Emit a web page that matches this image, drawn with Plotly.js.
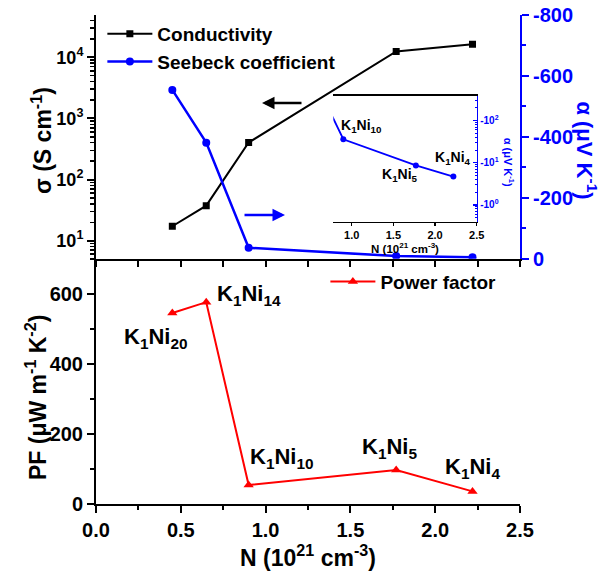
<!DOCTYPE html>
<html><head><meta charset="utf-8">
<script src="https://cdn.plot.ly/plotly-3.0.1.min.js"></script>
<style>body{margin:0;background:#fff}</style>
</head><body><div id="chart" style="width:600px;height:571px"></div>
<script>
// Carrier concentration N (10^21 cm^-3)
const N = [0.45, 0.65, 0.90, 1.77, 2.22];
// Conductivity sigma (S cm^-1)
const conductivity = [17.2, 37.4, 402, 12400, 16300];
// Seebeck coefficient alpha (uV K^-1)
const seebeck = [-554, -381, -36, -8.6, -4.7];
// Power factor (uW m^-1 K^-2)
const powerFactor = [545, 576, 54, 97, 36];
// Sample names
const samples = ['K<sub>1</sub>Ni<sub>20</sub>', 'K<sub>1</sub>Ni<sub>14</sub>', 'K<sub>1</sub>Ni<sub>10</sub>', 'K<sub>1</sub>Ni<sub>5</sub>', 'K<sub>1</sub>Ni<sub>4</sub>'];
// Tick labels
const sigmaTickVals = [10, 100, 1000, 10000];
const sigmaTickText = ['10<sup>1</sup>', '10<sup>2</sup>', '10<sup>3</sup>', '10<sup>4</sup>'];
const alphaTickVals = [0, -200, -400, -600, -800];
const alphaTickText = ['0', '-200', '-400', '-600', '-800'];
const insetTickVals = [1, 10, 100];
const insetTickText = ['-10<sup>0</sup>', '-10<sup>1</sup>', '-10<sup>2</sup>'];

const F = 'Liberation Sans, Arial, sans-serif';
const BLUE = '#0000ff', RED = '#ff0000', BLACK = '#000000';
const bold = (s, c) => ({family: F, size: s, color: c || BLACK, weight: 'bold'});

const traces = [
  {x: N, y: conductivity, xaxis: 'x2', yaxis: 'y', mode: 'lines+markers', name: 'Conductivity',
   line: {color: BLACK, width: 2}, marker: {symbol: 'square', size: 7, color: BLACK}, legend: 'legend'},
  {x: N, y: seebeck, xaxis: 'x2', yaxis: 'y3', mode: 'lines+markers', name: 'Seebeck coefficient',
   line: {color: BLUE, width: 2.5}, marker: {symbol: 'circle', size: 8, color: BLUE}, legend: 'legend'},
  {x: N, y: powerFactor, xaxis: 'x', yaxis: 'y2', mode: 'lines+markers', name: 'Power factor',
   line: {color: RED, width: 2}, marker: {symbol: 'triangle-up', size: 9, color: RED}, legend: 'legend2'},
  {x: N, y: seebeck.map(v => Math.abs(v)), xaxis: 'x3', yaxis: 'y4', mode: 'lines+markers', showlegend: false,
   line: {color: BLUE, width: 1.8}, marker: {symbol: 'circle', size: 6, color: BLUE}}
];

const ax = {showgrid: false, zeroline: false, showline: true, linecolor: BLACK, linewidth: 2,
  tickcolor: BLACK, tickwidth: 2};

const layout = {
  width: 600, height: 571,
  margin: {l: 96, r: 80, t: 15, b: 67},
  paper_bgcolor: '#fff', plot_bgcolor: 'rgba(0,0,0,0)',
  font: bold(20),
  xaxis: Object.assign({}, ax, {domain: [0, 1], anchor: 'y2', range: [0, 2.5], dtick: 0.5, tickformat: '.1f',
    ticks: 'outside', ticklen: 7, minor: {ticks: 'outside', ticklen: 4, dtick: 0.25, tickwidth: 2, tickcolor: BLACK},
    tickfont: bold(20), title: {text: 'N (10<sup>21</sup> cm<sup>-3</sup>)', font: bold(23), standoff: 0}}),
  xaxis2: Object.assign({}, ax, {anchor: 'y', matches: 'x', range: [0, 2.5], dtick: 0.25, ticks: 'outside', ticklen: 6,
    showticklabels: false}),
  xaxis4: Object.assign({}, ax, {anchor: 'y', overlaying: 'x2', side: 'top', range: [0, 2.5], dtick: 0.25,
    ticks: 'inside', ticklen: 5, showticklabels: false}),
  yaxis: Object.assign({}, ax, {domain: [0.5016, 1], anchor: 'x2', type: 'log', range: [0.705, 4.69],
    tickmode: 'array', tickvals: sigmaTickVals, ticktext: sigmaTickText, ticks: 'outside', ticklen: 7,
    minor: {ticks: 'outside', ticklen: 4, dtick: 'D1', tickwidth: 1.5, tickcolor: BLACK},
    tickfont: bold(18)}),
  yaxis3: Object.assign({}, ax, {overlaying: 'y', side: 'right', anchor: 'x2', range: [0, -800],
    tickmode: 'array', tickvals: alphaTickVals, ticktext: alphaTickText,
    ticks: 'outside', ticklen: 7, linecolor: BLUE, tickcolor: BLUE,
    minor: {ticks: 'outside', ticklen: 4, dtick: 100, tickwidth: 2, tickcolor: BLUE},
    tickfont: bold(20, BLUE)}),
  yaxis2: Object.assign({}, ax, {domain: [0, 0.5016], anchor: 'x', range: [0, 700], dtick: 200,
    ticks: 'outside', ticklen: 7, minor: {ticks: 'outside', ticklen: 4, dtick: 100, tickwidth: 2, tickcolor: BLACK},
    tickfont: bold(20)}),
  yaxis6: Object.assign({}, ax, {overlaying: 'y2', side: 'right', anchor: 'x', range: [0, 700], dtick: 100,
    ticks: 'inside', ticklen: 5, showticklabels: false}),
  xaxis3: Object.assign({}, ax, {domain: [0.5597, 0.8979], anchor: 'y4', range: [0.78, 2.5], dtick: 0.5, tickformat: '.1f',
    ticks: 'outside', ticklen: 3, linewidth: 1.5, tickwidth: 1.5, mirror: true, tickfont: bold(11),
    title: {text: 'N (10<sup>21</sup> cm<sup>-3</sup>)', font: bold(11.5), standoff: 2}}),
  yaxis4: Object.assign({}, ax, {domain: [0.5773, 0.835], anchor: 'x3', side: 'right', type: 'log', range: [-0.40, 2.59],
    tickmode: 'array', tickvals: insetTickVals, ticktext: insetTickText, ticks: 'inside', ticklen: 4,
    linecolor: BLUE, tickcolor: BLUE, linewidth: 1.5, tickwidth: 1.5, tickfont: bold(10, BLUE),
    minor: {ticks: 'inside', ticklen: 2, dtick: 'D1', tickwidth: 1, tickcolor: BLUE}}),
  yaxis5: Object.assign({}, ax, {overlaying: 'y4', side: 'left', anchor: 'x3', type: 'log', range: [-0.40, 2.59],
    tickmode: 'array', tickvals: insetTickVals, ticks: 'inside', ticklen: 5, showticklabels: false,
    linewidth: 1.5, tickwidth: 1.5, minor: {ticks: 'inside', ticklen: 3, dtick: 'D1', tickwidth: 1, tickcolor: BLACK}}),
  legend: {x: 0.015, y: 1.0, xanchor: 'left', yanchor: 'top', bgcolor: 'rgba(0,0,0,0)', font: bold(19),
    tracegroupgap: 0, itemwidth: 45},
  legend2: {x: 0.541, y: 0.4934, xanchor: 'left', yanchor: 'top', bgcolor: 'rgba(0,0,0,0)', font: bold(19),
    itemwidth: 45},
  showlegend: true,
  annotations: [
    {xref: 'x', yref: 'y2', x: 0.353, y: 474, text: samples[0], showarrow: false, font: bold(22)},
    {xref: 'x', yref: 'y2', x: 0.90, y: 597, text: samples[1], showarrow: false, font: bold(22)},
    {xref: 'x', yref: 'y2', x: 1.094, y: 130, text: samples[2], showarrow: false, font: bold(22)},
    {xref: 'x', yref: 'y2', x: 1.73, y: 160, text: samples[3], showarrow: false, font: bold(22)},
    {xref: 'x', yref: 'y2', x: 2.218, y: 103, text: samples[4], showarrow: false, font: bold(22)},
    {xref: 'x3', yref: 'y4', x: 1.124, y: 1.87, text: samples[2], showarrow: false, font: bold(14)},
    {xref: 'x3', yref: 'y4', x: 1.58, y: 0.71, text: samples[3], showarrow: false, font: bold(14)},
    {xref: 'x3', yref: 'y4', x: 2.22, y: 1.12, text: samples[4], showarrow: false, font: bold(14)},
    {xref: 'paper', yref: 'paper', x: 0.3915, y: 0.820, ax: 41, ay: 0, text: '', showarrow: true,
     arrowhead: 2, arrowsize: 1, arrowwidth: 2.5, arrowcolor: BLACK},
    {xref: 'paper', yref: 'paper', x: 0.4458, y: 0.591, ax: -42, ay: 0, text: '', showarrow: true,
     arrowhead: 2, arrowsize: 1, arrowwidth: 2.5, arrowcolor: BLUE},
    {xref: 'paper', yref: 'paper', x: -0.128, y: 0.744, xanchor: 'center', yanchor: 'middle',
     text: 'σ (S cm<sup>-1</sup>)', textangle: -90, showarrow: false, font: bold(23)},
    {xref: 'paper', yref: 'paper', x: -0.140, y: 0.218, xanchor: 'center', yanchor: 'middle',
     text: 'PF (μW m<sup>-1</sup> K<sup>-2</sup>)', textangle: -90, showarrow: false, font: bold(23)},
    {xref: 'paper', yref: 'paper', x: 1.157, y: 0.724, xanchor: 'center', yanchor: 'middle',
     text: 'α (μV K<sup>-1</sup>)', textangle: 90, showarrow: false, font: bold(22, BLUE)},
    {xref: 'paper', yref: 'paper', x: 0.9741, y: 0.70, xanchor: 'center', yanchor: 'middle',
     text: 'α (μV K<sup>-1</sup>)', textangle: 90, showarrow: false, font: bold(11, BLUE)}
  ]
};

Plotly.newPlot('chart', traces, layout, {displayModeBar: false, staticPlot: true});
</script></body></html>
